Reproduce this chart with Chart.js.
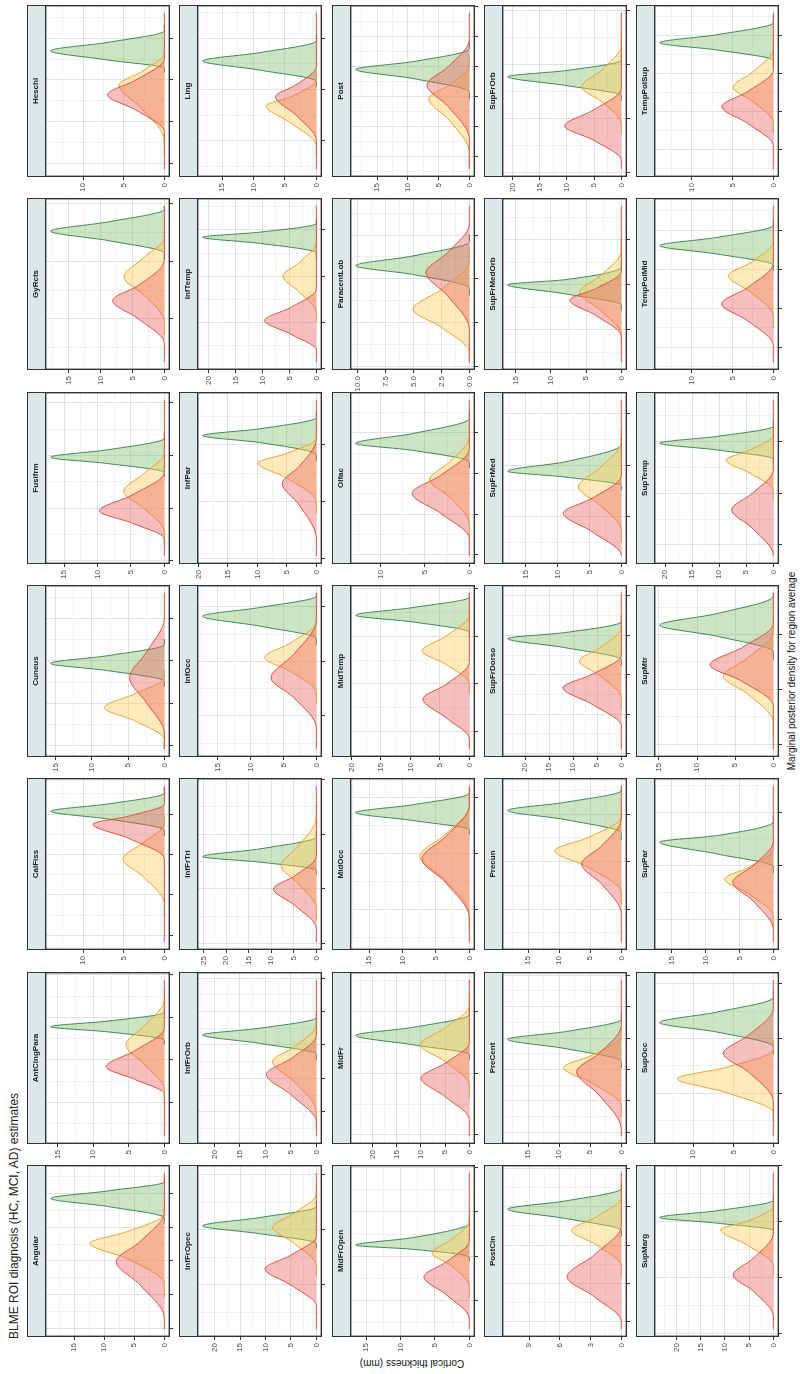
<!DOCTYPE html>
<html>
<head>
<meta charset="utf-8">
<script src="https://cdn.jsdelivr.net/npm/chart.js@4.4.1/dist/chart.umd.min.js"></script>
<style>
  html, body { margin: 0; padding: 0; background: #fff; width: 800px; height: 1374px; overflow: hidden; }
  #sheet {
    position: absolute; left: 0; top: 0; width: 1374px; height: 800px;
    transform-origin: 0 0; transform: translate(0px, 1374px) rotate(-90deg);
    background: #fff; font-family: "Liberation Sans", Arial, sans-serif;
  }
  #sheet canvas { position: absolute; }
  .strip {
    position: absolute; box-sizing: border-box; background: #dae8ea;
    border: 1.2px solid #333; font-weight: bold; font-size: 8px; line-height: 16px;
    color: #1a1a1a; text-align: center; white-space: nowrap;
  }
  .title { position: absolute; left: 35px; top: 7px; font-size: 12px; line-height: 14px; color: #222; white-space: nowrap; }
  .xtitle { position: absolute; left: 37px; width: 1332px; top: 786px; font-size: 10px; line-height: 12px; text-align: center; color: #111; }
  .ytitle { position: absolute; left: -189px; top: 406px; width: 400px; font-size: 10px; line-height: 12px; text-align: center; color: #111; transform: rotate(-90deg); transform-origin: 50% 50%; }
</style>
</head>
<body>
<div id="sheet">
  <div class="title">BLME ROI diagnosis (HC, MCI, AD) estimates</div>
  <div class="xtitle">Marginal posterior density for region average</div>
  <div class="ytitle">Cortical thickness (mm)</div>
</div>
<script>
// Regions of interest, in facet order (7 per row, 5 rows)
const regions = [
  "Angular","AntCingPara","CalFiss","Cuneus","Fusifrm","GyRcts","Heschl",
  "InfFrOpec","InfFrOrb","InfFrTri","InfOcc","InfPar","InfTemp","Ling",
  "MidFrOpen","MidFr","MidOcc","MidTemp","Olfac","ParacentLob","Post",
  "PostCin","PreCent","Precun","SupFrDorso","SupFrMed","SupFrMedOrb","SupFrOrb",
  "SupMarg","SupOcc","SupPar","SupMtr","SupTemp","TempPolMid","TempPolSup"
];

// Range of the posterior samples (mm) per region; densities sit at 0 outside their bump
const sampleRange = [
  [2.297,2.762],[2.421,2.788],[1.783,2.170],[1.792,2.160],[2.609,2.906],[2.225,2.496],[2.286,2.661],
  [2.420,2.703],[2.327,2.795],[2.403,2.688],[2.239,2.526],[2.304,2.579],[2.614,2.952],[1.844,2.150],
  [2.436,2.788],[2.398,2.651],[2.241,2.521],[2.563,2.891],[2.197,2.581],[2.209,2.567],[1.558,2.080],
  [2.280,2.689],[2.288,2.785],[2.130,2.460],[2.411,2.808],[2.424,2.726],[2.328,2.675],[2.406,2.695],
  [2.407,2.687],[1.922,2.207],[1.957,2.249],[2.491,2.776],[2.478,2.781],[2.662,3.062],[2.548,2.961]
];

// Thickness axis breaks (mm)
const thicknessTicks = [
  [2.3,2.4,2.5,2.6,2.7],[2.5,2.6,2.7,2.8],[1.8,1.9,2.0,2.1],[1.8,1.9,2.0,2.1],[2.6,2.7,2.8,2.9],[2.3,2.4,2.5],[2.3,2.4,2.5,2.6],
  [2.5,2.6,2.7],[2.4,2.5,2.6,2.7,2.8],[2.4,2.5,2.6,2.7],[2.3,2.4,2.5],[2.3,2.4,2.5],[2.6,2.7,2.8,2.9],[1.9,2.0,2.1],
  [2.5,2.6,2.7,2.8],[2.4,2.5,2.6],[2.3,2.4,2.5],[2.6,2.7,2.8,2.9],[2.2,2.3,2.4,2.5],[2.2,2.3,2.4,2.5],[1.6,1.7,1.8,1.9,2.0,2.1],
  [2.3,2.4,2.5,2.6,2.7],[2.3,2.4,2.5,2.6,2.7,2.8],[2.2,2.3,2.4],[2.4,2.5,2.6,2.7,2.8],[2.5,2.6,2.7],[2.4,2.5,2.6],[2.4,2.5,2.6,2.7],
  [2.4,2.5,2.6,2.7],[2.0,2.1,2.2],[2.0,2.1,2.2],[2.5,2.6,2.7],[2.5,2.6,2.7],[2.7,2.8,2.9,3.0],[2.6,2.7,2.8,2.9]
];

// Density axis breaks (labelled)
const densityTicks = [
  [0,5,10,15],[0,5,10,15],[0,5,10],[0,5,10,15],[0,5,10,15],[0,5,10,15],[0,5,10],
  [0,5,10,15,20],[0,5,10,15,20],[0,5,10,15,20,25],[0,5,10,15],[0,5,10,15,20],[0,5,10,15,20],[0,5,10,15],
  [0,5,10,15],[0,5,10,15,20],[0,5,10,15],[0,5,10,15,20],[0,5,10],[0,2.5,5,7.5,10],[0,5,10,15],
  [0,3,6,9],[0,5,10,15],[0,5,10,15],[0,5,10,15,20],[0,5,10,15],[0,5,10,15],[0,5,10,15,20],
  [0,5,10,15,20],[0,5,10],[0,5,10,15],[0,5,10,15],[0,5,10,15,20],[0,5,10],[0,5,10]
];

// Marginal posterior density curves: [thickness mm, density]
const adCurves = [
  [[2.330,0],[2.428,4.0],[2.498,8.0],[2.558,4.0],[2.645,0]],
  [[2.520,0],[2.554,4.1],[2.584,8.2],[2.622,4.1],[2.675,0]],
  [[1.990,0],[2.040,4.4],[2.075,8.8],[2.095,4.4],[2.125,0]],
  [[1.830,0],[1.900,2.4],[1.960,4.8],[2.022,2.4],[2.100,0]],
  [[2.642,0],[2.672,4.85],[2.695,9.7],[2.725,4.85],[2.768,0]],
  [[2.258,0],[2.300,4.05],[2.332,8.1],[2.358,4.05],[2.402,0]],
  [[2.375,0],[2.428,3.5],[2.464,7.0],[2.500,3.5],[2.550,0]],
  [[2.462,0],[2.500,5.05],[2.529,10.1],[2.554,5.05],[2.588,0]],
  [[2.370,0],[2.450,4.9],[2.512,9.8],[2.560,4.9],[2.630,0]],
  [[2.428,0],[2.470,4.75],[2.500,9.5],[2.524,4.75],[2.560,0]],
  [[2.278,0],[2.334,3.45],[2.370,6.9],[2.413,3.45],[2.475,0]],
  [[2.335,0],[2.394,2.9],[2.432,5.8],[2.462,2.9],[2.510,0]],
  [[2.640,0],[2.675,4.8],[2.704,9.6],[2.732,4.8],[2.772,0]],
  [[1.900,0],[1.950,3.25],[1.986,6.5],[2.009,3.25],[2.045,0]],
  [[2.460,0],[2.513,3.3],[2.554,6.6],[2.588,3.3],[2.635,0]],
  [[2.425,0],[2.462,5.0],[2.492,10.0],[2.516,5.0],[2.550,0]],
  [[2.285,0],[2.348,3.55],[2.390,7.1],[2.430,3.55],[2.485,0]],
  [[2.585,0],[2.629,3.95],[2.668,7.9],[2.699,3.95],[2.745,0]],
  [[2.240,0],[2.302,3.2],[2.351,6.45],[2.396,3.2],[2.460,0]],
  [[2.285,0],[2.361,1.95],[2.414,3.9],[2.460,1.95],[2.525,0]],
  [[1.660,0],[1.767,3.45],[1.839,6.9],[1.900,3.45],[1.990,0]],
  [[2.300,0],[2.365,2.65],[2.417,5.3],[2.474,2.65],[2.550,0]],
  [[2.310,0],[2.419,3.6],[2.493,7.2],[2.551,3.6],[2.640,0]],
  [[2.190,0],[2.253,3.2],[2.295,6.4],[2.333,3.2],[2.390,0]],
  [[2.470,0],[2.525,6.05],[2.567,12.1],[2.601,6.05],[2.650,0]],
  [[2.425,0],[2.471,4.55],[2.507,9.1],[2.536,4.55],[2.580,0]],
  [[2.385,0],[2.432,3.65],[2.466,7.3],[2.491,3.65],[2.530,0]],
  [[2.422,0],[2.460,5.2],[2.486,10.4],[2.515,5.2],[2.555,0]],
  [[2.430,0],[2.475,4.15],[2.504,8.3],[2.534,4.15],[2.578,0]],
  [[1.985,0],[2.039,3.1],[2.073,6.25],[2.106,3.1],[2.155,0]],
  [[1.980,0],[2.034,3.0],[2.069,6.0],[2.100,3.0],[2.145,0]],
  [[2.570,0],[2.615,4.15],[2.645,8.3],[2.676,4.15],[2.720,0]],
  [[2.480,0],[2.532,3.85],[2.568,7.7],[2.600,3.85],[2.645,0]],
  [[2.705,0],[2.768,3.15],[2.811,6.3],[2.853,3.15],[2.915,0]],
  [[2.610,0],[2.669,3.15],[2.713,6.3],[2.753,3.15],[2.810,0]]
];

const mciCurves = [
  [[2.430,0],[2.507,6.2],[2.552,12.4],[2.587,6.2],[2.640,0]],
  [[2.530,0],[2.588,2.7],[2.635,5.4],[2.682,2.7],[2.740,0]],
  [[1.880,0],[1.944,2.55],[1.989,5.1],[2.030,2.55],[2.075,0]],
  [[1.815,0],[1.859,4.15],[1.890,8.3],[1.922,4.15],[1.960,0]],
  [[2.655,0],[2.700,3.05],[2.732,6.1],[2.766,3.05],[2.805,0]],
  [[2.295,0],[2.341,3.15],[2.372,6.3],[2.407,3.15],[2.440,0]],
  [[2.355,0],[2.432,2.8],[2.488,5.6],[2.520,2.8],[2.565,0]],
  [[2.535,0],[2.575,4.3],[2.605,8.6],[2.630,4.3],[2.665,0]],
  [[2.400,0],[2.490,4.3],[2.550,8.6],[2.595,4.3],[2.660,0]],
  [[2.465,0],[2.509,3.9],[2.542,7.8],[2.579,3.9],[2.630,0]],
  [[2.342,0],[2.382,3.95],[2.407,7.9],[2.434,3.95],[2.472,0]],
  [[2.400,0],[2.441,4.95],[2.468,9.9],[2.485,4.95],[2.512,0]],
  [[2.722,0],[2.765,3.1],[2.800,6.2],[2.830,3.1],[2.872,0]],
  [[1.890,0],[1.934,4.0],[1.968,8.0],[1.986,4.0],[2.020,0]],
  [[2.530,0],[2.580,2.7],[2.607,5.4],[2.637,2.7],[2.680,0]],
  [[2.480,0],[2.519,5.05],[2.546,10.1],[2.573,5.05],[2.610,0]],
  [[2.290,0],[2.353,3.7],[2.395,7.4],[2.433,3.7],[2.485,0]],
  [[2.700,0],[2.741,4.0],[2.769,8.0],[2.800,4.0],[2.845,0]],
  [[2.275,0],[2.343,2.25],[2.384,4.5],[2.428,2.25],[2.490,0]],
  [[2.230,0],[2.289,2.5],[2.330,5.05],[2.376,2.5],[2.440,0]],
  [[1.615,0],[1.722,3.3],[1.794,6.6],[1.839,3.3],[1.905,0]],
  [[2.445,0],[2.500,2.4],[2.539,4.85],[2.574,2.4],[2.625,0]],
  [[2.385,0],[2.456,4.65],[2.506,9.3],[2.546,4.65],[2.605,0]],
  [[2.235,0],[2.288,5.35],[2.323,10.7],[2.351,5.35],[2.395,0]],
  [[2.540,0],[2.597,4.35],[2.635,8.7],[2.669,4.35],[2.720,0]],
  [[2.475,0],[2.523,3.4],[2.558,6.75],[2.594,3.4],[2.645,0]],
  [[2.390,0],[2.443,2.95],[2.483,5.9],[2.520,2.95],[2.575,0]],
  [[2.490,0],[2.531,3.65],[2.558,7.3],[2.589,3.65],[2.635,0]],
  [[2.520,0],[2.558,5.45],[2.585,10.9],[2.600,5.45],[2.628,0]],
  [[1.965,0],[2.002,6.0],[2.027,12.0],[2.047,6.0],[2.080,0]],
  [[2.005,0],[2.047,3.6],[2.075,7.2],[2.097,3.6],[2.130,0]],
  [[2.540,0],[2.591,3.3],[2.624,6.55],[2.658,3.3],[2.705,0]],
  [[2.605,0],[2.639,4.35],[2.664,8.7],[2.684,4.35],[2.712,0]],
  [[2.780,0],[2.841,2.75],[2.883,5.5],[2.917,2.75],[2.970,0]],
  [[2.670,0],[2.726,2.45],[2.764,4.9],[2.806,2.45],[2.865,0]]
];

const hcCurves = [
  [[2.628,0],[2.662,9.45],[2.686,18.9],[2.708,9.45],[2.735,0]],
  [[2.646,0],[2.666,8.0],[2.678,16.0],[2.691,8.0],[2.712,0]],
  [[2.060,0],[2.088,7.0],[2.107,14.0],[2.125,7.0],[2.152,0]],
  [[1.952,0],[1.977,7.85],[1.994,15.7],[2.012,7.85],[2.038,0]],
  [[2.768,0],[2.785,8.5],[2.797,17.0],[2.811,8.5],[2.833,0]],
  [[2.414,0],[2.436,8.9],[2.452,17.8],[2.468,8.9],[2.490,0]],
  [[2.528,0],[2.548,7.0],[2.570,14.0],[2.590,7.0],[2.618,0]],
  [[2.575,0],[2.593,11.2],[2.607,22.4],[2.622,11.2],[2.642,0]],
  [[2.572,0],[2.605,11.15],[2.630,22.3],[2.650,11.15],[2.682,0]],
  [[2.534,0],[2.549,12.6],[2.559,25.2],[2.573,12.6],[2.595,0]],
  [[2.442,0],[2.465,8.65],[2.483,17.3],[2.499,8.65],[2.520,0]],
  [[2.482,0],[2.504,9.65],[2.516,19.3],[2.528,9.65],[2.548,0]],
  [[2.850,0],[2.871,10.55],[2.884,21.1],[2.895,10.55],[2.914,0]],
  [[2.016,0],[2.038,9.05],[2.056,18.1],[2.072,9.05],[2.095,0]],
  [[2.598,0],[2.616,8.25],[2.625,16.5],[2.642,8.25],[2.675,0]],
  [[2.530,0],[2.546,11.75],[2.561,23.5],[2.574,11.75],[2.595,0]],
  [[2.442,0],[2.459,8.5],[2.473,17.0],[2.487,8.5],[2.508,0]],
  [[2.808,0],[2.830,9.65],[2.844,19.3],[2.860,9.65],[2.882,0]],
  [[2.428,0],[2.457,6.4],[2.474,12.8],[2.498,6.4],[2.535,0]],
  [[2.378,0],[2.410,5.1],[2.430,10.2],[2.452,5.1],[2.485,0]],
  [[1.815,0],[1.861,9.25],[1.891,18.5],[1.917,9.25],[1.960,0]],
  [[2.538,0],[2.570,5.55],[2.594,11.1],[2.615,5.55],[2.648,0]],
  [[2.525,0],[2.567,9.15],[2.596,18.3],[2.620,9.15],[2.660,0]],
  [[2.360,0],[2.389,9.15],[2.408,18.3],[2.425,9.15],[2.450,0]],
  [[2.638,0],[2.669,11.8],[2.692,23.6],[2.707,11.8],[2.735,0]],
  [[2.560,0],[2.577,8.9],[2.588,17.8],[2.606,8.9],[2.640,0]],
  [[2.455,0],[2.480,8.05],[2.500,16.1],[2.511,8.05],[2.540,0]],
  [[2.542,0],[2.561,10.45],[2.577,20.9],[2.588,10.45],[2.608,0]],
  [[2.584,0],[2.597,11.75],[2.607,23.5],[2.619,11.75],[2.638,0]],
  [[2.085,0],[2.112,7.1],[2.129,14.2],[2.148,7.1],[2.175,0]],
  [[2.098,0],[2.122,8.4],[2.144,16.8],[2.156,8.4],[2.182,0]],
  [[2.668,0],[2.697,7.45],[2.717,14.9],[2.738,7.45],[2.770,0]],
  [[2.666,0],[2.684,10.5],[2.697,21.0],[2.710,10.5],[2.730,0]],
  [[2.910,0],[2.939,6.95],[2.960,13.9],[2.981,6.95],[3.012,0]],
  [[2.835,0],[2.863,6.95],[2.882,13.9],[2.903,6.95],[2.935,0]]
];

// ---- drawing ----
Chart.defaults.font.family = '"Liberation Sans", Arial, sans-serif';

// AD is dataset 0 so it is painted last (on top); its zero line spans the whole sample range
const groups = [
  { curves: adCurves,  line: '#E2503C', fill: 'rgba(232,95,95,0.40)', fullSpan: true },
  { curves: mciCurves, line: '#F0A033', fill: 'rgba(252,205,90,0.42)', fullSpan: false },
  { curves: hcCurves,  line: '#3A8A58', fill: 'rgba(120,185,95,0.38)', fullSpan: false }
];

const GRID_MAJOR = '#e2e2e2', GRID_MINOR = '#f1f1f1', FRAME = '#333333';
const AXIS_W = 26, AXIS_H = 4, PAD_T = 6, PAD_B = 2, PAD_R = 2;
const PLOT_W = 172, PLOT_H = 125, STRIP_H = 18;
const colLeft = c => Math.round(37 + c * 193.33);
const rowTop = r => Math.round(45 + r * 152.33);

// majors plus half-way minor breaks inside [min, max]
function withMinor(majors, min, max) {
  const half = (majors[1] - majors[0]) / 2;
  const start = majors[0] - half * Math.ceil((majors[0] - min) / half);
  const out = [];
  for (let k = 0; ; k++) {
    const v = start + k * half;
    if (v > max + 1e-9) break;
    if (v < min - 1e-9) continue;
    const isMajor = majors.some(m => Math.abs(m - v) < half * 0.01);
    out.push(isMajor ? { value: v } : { value: v, minor: true });
  }
  return out;
}

// zero-level lead-in / lead-out so each density joins its baseline smoothly
function withBaseline(curve, lo, hi, fullSpan) {
  const first = curve[0][0], last = curve[curve.length - 1][0];
  const a = fullSpan ? lo : Math.max(lo, first - 0.5 * (curve[1][0] - first));
  const b = fullSpan ? hi : Math.min(hi, last + 0.5 * (last - curve[curve.length - 2][0]));
  return [[a, 0], ...curve, [b, 0]].map(([x, y]) => ({ x, y }));
}

const panelFrame = {
  id: 'panelFrame',
  afterDraw(chart) {
    const { ctx, chartArea: a } = chart;
    ctx.save();
    ctx.strokeStyle = FRAME;
    ctx.lineWidth = 1.4;
    ctx.strokeRect(a.left + 0.7, a.top + 0.7, a.right - a.left - 1.4, a.bottom - a.top - 1.4);
    ctx.restore();
  }
};

const sheet = document.getElementById('sheet');

regions.forEach((name, i) => {
  const r = Math.floor(i / 7), c = i % 7;
  const left = colLeft(c), top = rowTop(r);

  const cv = document.createElement('canvas');
  cv.width = AXIS_W + PLOT_W + PAD_R;
  cv.height = PAD_T + PLOT_H + AXIS_H + PAD_B;
  cv.style.left = (left - AXIS_W) + 'px';
  cv.style.top = (top - PAD_T) + 'px';
  cv.style.width = cv.width + 'px';
  cv.style.height = cv.height + 'px';
  sheet.appendChild(cv);

  const strip = document.createElement('div');
  strip.className = 'strip';
  strip.textContent = name;
  strip.style.left = left + 'px';
  strip.style.top = (top - STRIP_H) + 'px';
  strip.style.width = PLOT_W + 'px';
  strip.style.height = (STRIP_H + 1) + 'px';
  sheet.appendChild(strip);

  const [lo, hi] = sampleRange[i];
  const xMin = lo - 0.05 * (hi - lo), xMax = hi + 0.05 * (hi - lo);

  const datasets = groups.map(g => ({
    data: withBaseline(g.curves[i], lo, hi, g.fullSpan),
    borderColor: g.line,
    backgroundColor: g.fill,
    borderWidth: 1,
    pointRadius: 0,
    fill: 'origin',
    cubicInterpolationMode: 'monotone'
  }));

  const peak = Math.max(...groups.map(g => Math.max(...g.curves[i].map(p => p[1]))));
  const yMin = -0.05 * peak, yMax = 1.05 * peak;
  const yTicks = densityTicks[i];
  const decimals = yTicks.some(v => !Number.isInteger(v)) ? 1 : 0;

  const gridOpts = {
    color: ctx => (ctx.tick && ctx.tick.minor) ? GRID_MINOR : GRID_MAJOR,
    lineWidth: 1,
    drawTicks: true,
    tickLength: 3,
    tickWidth: 1,
    tickColor: ctx => (ctx.tick && ctx.tick.minor) ? 'rgba(0,0,0,0)' : FRAME
  };

  new Chart(cv, {
    type: 'line',
    data: { datasets },
    plugins: [panelFrame],
    options: {
      responsive: false,
      maintainAspectRatio: false,
      devicePixelRatio: 1,
      animation: false,
      events: [],
      layout: { padding: { top: PAD_T, bottom: PAD_B, left: 0, right: PAD_R } },
      plugins: { legend: { display: false }, tooltip: { enabled: false }, title: { display: false } },
      scales: {
        x: {
          type: 'linear', position: 'bottom', bounds: 'data', min: xMin, max: xMax,
          afterBuildTicks: s => { s.ticks = withMinor(thicknessTicks[i], xMin, xMax); },
          afterFit: s => { s.height = AXIS_H; s.paddingLeft = 0; s.paddingRight = 0; s.paddingTop = 0; s.paddingBottom = 0; },
          ticks: { display: false },
          grid: gridOpts,
          border: { display: false }
        },
        y: {
          type: 'linear', position: 'left', bounds: 'data', min: yMin, max: yMax,
          afterBuildTicks: s => { s.ticks = withMinor(yTicks, yMin, yMax); },
          afterFit: s => { s.width = AXIS_W; s.paddingTop = 0; s.paddingBottom = 0; s.paddingLeft = 0; s.paddingRight = 0; },
          ticks: {
            autoSkip: false, padding: 3, color: '#4d4d4d', font: { size: 8 },
            callback: (v, idx, ticks) => ticks[idx].minor ? '' : Number(v).toFixed(decimals)
          },
          grid: gridOpts,
          border: { display: false }
        }
      }
    }
  });
});
</script>
</body>
</html>
